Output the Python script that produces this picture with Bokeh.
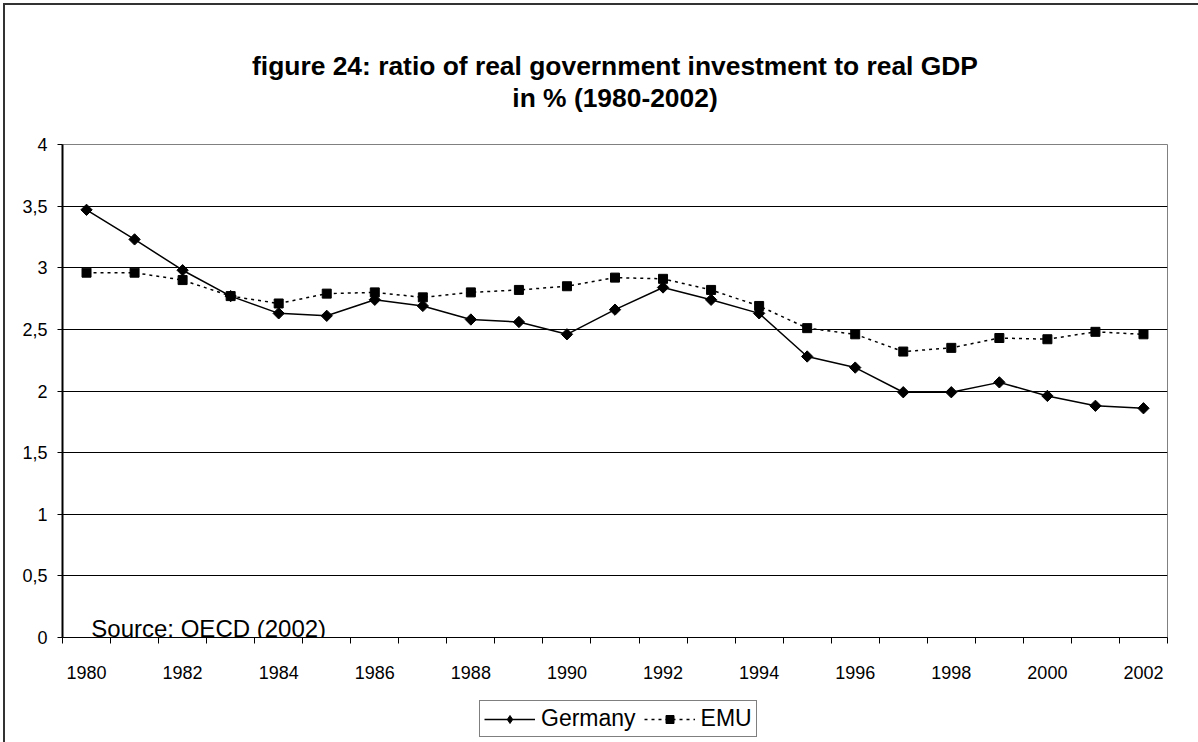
from bokeh.plotting import figure
from bokeh.layouts import column
from bokeh.models import Range1d, FixedTicker, Label, Legend, LegendItem
from bokeh.embed import file_html
from bokeh.resources import INLINE

years = [1980, 1981, 1982, 1983, 1984, 1985, 1986, 1987, 1988, 1989, 1990, 1991,
         1992, 1993, 1994, 1995, 1996, 1997, 1998, 1999, 2000, 2001, 2002]
germany = [3.47, 3.23, 2.98, 2.77, 2.63, 2.61, 2.74, 2.69, 2.58, 2.56, 2.46, 2.66,
           2.84, 2.74, 2.63, 2.28, 2.19, 1.99, 1.99, 2.07, 1.96, 1.88, 1.86]
emu = [2.96, 2.96, 2.90, 2.77, 2.71, 2.79, 2.80, 2.76, 2.80, 2.82, 2.85, 2.92,
       2.91, 2.82, 2.69, 2.51, 2.46, 2.32, 2.35, 2.43, 2.42, 2.48, 2.46]
x_tick_years = [1980, 1982, 1984, 1986, 1988, 1990, 1992, 1994, 1996, 1998, 2000, 2002]
x_tick_labels = ["1980", "1982", "1984", "1986", "1988", "1990", "1992", "1994",
                 "1996", "1998", "2000", "2002"]
y_ticks = [0, 0.5, 1, 1.5, 2, 2.5, 3, 3.5, 4]
y_tick_labels = ["0", "0,5", "1", "1,5", "2", "2,5", "3", "3,5", "4"]
title_lines = ["figure 24: ratio of real government investment to real GDP", "in % (1980-2002)"]
source_text = "Source: OECD (2002)"
legend_labels = ["Germany", "EMU"]

FONT = "Liberation Sans"
W = 1198
LEFT, RIGHT = 62, 31              # frame borders (column aligns all frames)
FX0, FX1 = LEFT, W - RIGHT       # frame pixel extent
TOP_H, MAIN_H, LEG_H = 130, 570, 42
EDGE_TL = "inset 3px 3px 0 0 white, inset 5px 5px 0 0 #333333"
EDGE_L = "inset 3px 0 0 0 white, inset 5px 0 0 0 #333333"


def bare(height, edge):
    f = figure(width=W, height=height, x_range=Range1d(FX0, FX1), y_range=Range1d(height, 0),
               x_axis_type=None, y_axis_type=None, output_backend="svg",
               toolbar_location=None, min_border=0,
               min_border_left=LEFT, min_border_right=RIGHT)
    f.outline_line_color = None
    f.background_fill_color = None
    f.border_fill_color = None
    f.styles = {"box-shadow": edge, "background-color": "white"}
    return f


# ---- title strip ----
t = bare(TOP_H, EDGE_TL)
for line, base in zip(title_lines, [65, 97]):
    t.add_layout(Label(x=(FX0 + FX1) / 2, y=base, text=line, text_align="center",
                       text_baseline="alphabetic", text_font=FONT, text_font_size="26.4px",
                       text_font_style="bold", text_color="black"))

# ---- main chart ----
p = figure(width=W, height=MAIN_H,
           x_range=Range1d(years[0] - 0.5, years[-1] + 0.5), y_range=Range1d(0, 4),
           output_backend="svg", toolbar_location=None,
           min_border_left=LEFT, min_border_right=RIGHT, min_border_top=14, min_border_bottom=63)
p.styles = {"box-shadow": EDGE_L, "background-color": "white"}
p.background_fill_color = "white"
p.border_fill_color = None
p.outline_line_color = "#808080"
p.outline_line_width = 1

boundaries = [y - 0.5 for y in years] + [years[-1] + 0.5]
p.xaxis.ticker = FixedTicker(ticks=x_tick_years, minor_ticks=boundaries)
p.xaxis.major_label_overrides = {y: l for y, l in zip(x_tick_years, x_tick_labels)}
p.xaxis.major_tick_out = 0
p.xaxis.major_tick_in = 0
p.xaxis.minor_tick_out = 6
p.xaxis.minor_tick_in = 0
p.xaxis.minor_tick_line_color = "black"
p.xaxis.axis_line_color = "black"
p.xaxis.axis_line_width = 1
p.xaxis.major_label_standoff = 22
p.xaxis.major_label_text_font = FONT
p.xaxis.major_label_text_font_size = "18px"
p.xaxis.major_label_text_color = "black"

yt = FixedTicker(ticks=y_ticks, minor_ticks=[])
p.yaxis.ticker = yt
p.yaxis.major_label_overrides = {tk: l for tk, l in zip(y_ticks, y_tick_labels)}
p.yaxis.major_tick_out = 5
p.yaxis.major_tick_in = 0
p.yaxis.minor_tick_line_color = None
p.yaxis.axis_line_color = "black"
p.yaxis.axis_line_width = 2
p.yaxis.major_label_standoff = 10
p.yaxis.major_label_text_font = FONT
p.yaxis.major_label_text_font_size = "18px"
p.yaxis.major_label_text_color = "black"

p.xgrid.grid_line_color = None
p.ygrid.ticker = yt
p.ygrid.grid_line_color = "black"
p.ygrid.grid_line_width = 1

G_LINE = dict(line_color="black", line_width=1.5)
E_LINE = dict(line_color="black", line_width=1.5, line_dash="3 4")
E_MARK = dict(marker="square", size=9, fill_color="black", line_color="black")

p.line(years, germany, **G_LINE)
p.scatter(years, germany, marker="square", angle=0.785398, size=8,
          fill_color="black", line_color="black")
p.line(years, emu, **E_LINE)
p.scatter(years, emu, **E_MARK)

p.add_layout(Label(x=1980.10, y=0.073, text=source_text, text_align="left",
                   text_baseline="alphabetic", text_font=FONT, text_font_size="24px",
                   text_color="black"))

# ---- legend strip (series drawn out of view; only their legend swatches show) ----
b = bare(LEG_H, EDGE_L)
bg1 = b.line(years, germany, **G_LINE)
bg2 = b.scatter(years, germany, marker="diamond", size=12, fill_color="black", line_color="black")
be1 = b.line(years, emu, **E_LINE)
be2 = b.scatter(years, emu, **E_MARK)
legend = Legend(items=[LegendItem(label=legend_labels[0], renderers=[bg1, bg2]),
                       LegendItem(label=legend_labels[1], renderers=[be1, be2])],
                location=(479 - LEFT, 5), orientation="horizontal",
                glyph_width=51, glyph_height=20, label_standoff=6, spacing=8,
                padding=4, margin=0,
                label_text_font=FONT, label_text_font_size="23px", label_text_color="black",
                border_line_color="black", border_line_width=1,
                background_fill_color="white", background_fill_alpha=1)
b.add_layout(legend, "center")

layout = column(t, p, b, spacing=0)
open("out.html", "w").write(file_html(layout, INLINE))
